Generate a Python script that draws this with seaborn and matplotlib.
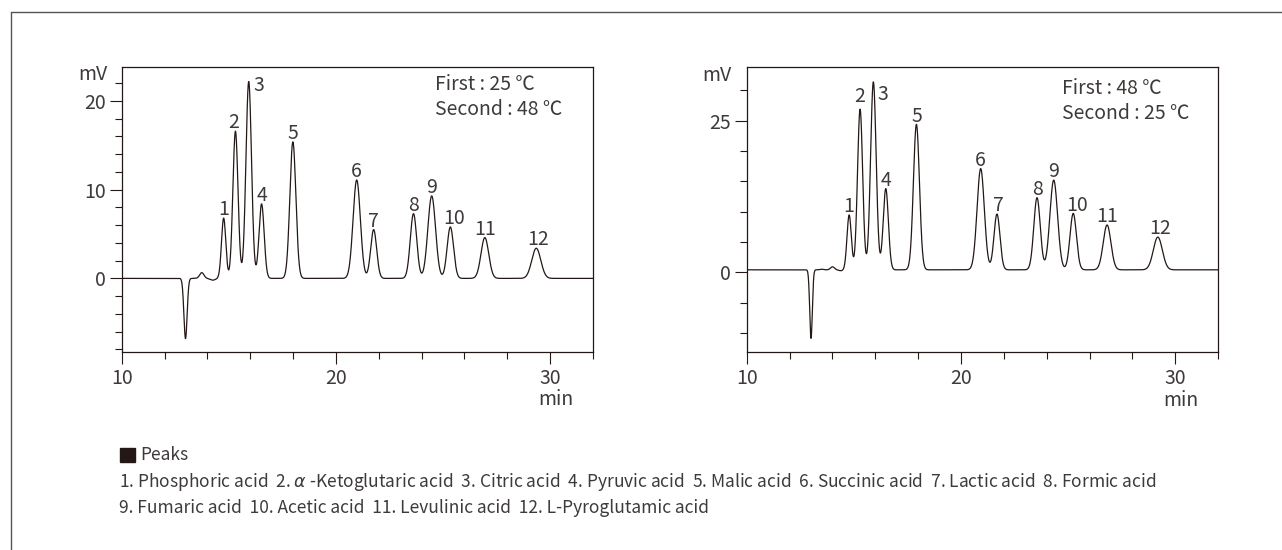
import numpy as np
import pandas as pd
import matplotlib
matplotlib.use('Agg')
import matplotlib.pyplot as plt
import seaborn as sns
from matplotlib.ticker import MultipleLocator
from matplotlib.lines import Line2D
from matplotlib.patches import Rectangle

# peak numbers and names
peak_ids = ['1', '2', '3', '4', '5', '6', '7', '8', '9', '10', '11', '12']
peak_names = ['Phosphoric acid', r'$\alpha$ -Ketoglutaric acid', 'Citric acid', 'Pyruvic acid',
              'Malic acid', 'Succinic acid', 'Lactic acid', 'Formic acid',
              'Fumaric acid', 'Acetic acid', 'Levulinic acid', 'L-Pyroglutamic acid']

# left chart (First 25 C / Second 48 C): retention time (min), height (mV)
rt_a = [14.76, 15.31, 15.93, 16.53, 17.99, 20.97, 21.76, 23.62, 24.47, 25.34, 26.95, 29.35]
h_a = [6.8, 16.6, 22.2, 8.4, 15.4, 11.1, 5.5, 7.3, 9.3, 5.8, 4.6, 3.4]
# system peaks (injection dip and small bumps)
sys_rt_a = [12.98, 13.74, 14.25]
sys_h_a = [-6.8, 0.65, -0.2]
sys_w_a = [0.075, 0.1, 0.12]
base_a = 0.0

# right chart (First 48 C / Second 25 C)
rt_b = [14.78, 15.29, 15.91, 16.49, 17.92, 20.92, 21.68, 23.55, 24.33, 25.24, 26.82, 29.19]
h_b = [9.05, 26.5, 31.0, 13.4, 24.0, 16.7, 9.2, 11.9, 14.8, 9.3, 7.4, 5.4]
sys_rt_b = [13.0, 13.5, 14.0, 14.4]
sys_h_b = [-11.3, 0.1, 0.5, -0.15]
sys_w_b = [0.06, 0.08, 0.09, 0.1]
base_b = 0.4

# peak widths (sigma, min), same column for both runs
w_pk = [0.10, 0.12, 0.13, 0.12, 0.14, 0.17, 0.14, 0.15, 0.18, 0.15, 0.18, 0.21]


def trace(rt, h, w, srt, sh, sw, base):
    t = np.linspace(10, 32, 3301)
    y = np.full_like(t, base)
    for c, a, s in zip(list(rt) + list(srt), list(h) + list(sh), list(w) + list(sw)):
        y += a * np.exp(-(t - c) ** 2 / (2 * s ** 2))
    return pd.DataFrame({'min': t, 'mV': y})


df_a = trace(rt_a, h_a, w_pk, sys_rt_a, sys_h_a, sys_w_a, base_a)
df_b = trace(rt_b, h_b, w_pk, sys_rt_b, sys_h_b, sys_w_b, base_b)

sns.set_style('white')
plt.rcParams['font.family'] = ['Noto Sans CJK JP', 'DejaVu Sans']
plt.rcParams['mathtext.fontset'] = 'dejavusans'

ink = '#231815'
txt = '#3e3a39'

fig = plt.figure(figsize=(12.82, 5.5), dpi=100)
ax1 = fig.add_axes([0.0949, 0.36, 0.3677, 0.5176])
ax2 = fig.add_axes([0.5825, 0.3595, 0.3676, 0.5192])

# label offsets in points (dx, dy)
offs_a = {'2': (-1, 2), '3': (7, -6.5), '10': (3, 2), '12': (1, 2)}
offs_b = {'2': (-0.5, 5), '3': (7, -13), '7': (1, 2), '10': (2.6, 2), '12': (1.5, 2)}

setup = [
    (ax1, df_a, rt_a, (-8.3, 23.8), 10, 2, offs_a, 'First : 25 ℃\nSecond : 48 ℃', (0.665, 0.975), (-0.031, 0.976)),
    (ax2, df_b, rt_b, (-13.2, 33.9), 25, 5, offs_b, 'First : 48 ℃\nSecond : 25 ℃', (0.668, 0.962), (-0.033, 0.969)),
]

for ax, df, rts, ylim, ymaj, ymin, offs, cond, cpos, mvpos in setup:
    sns.lineplot(data=df, x='min', y='mV', ax=ax, color=ink, linewidth=0.9)
    ax.set_xlim(10, 32)
    ax.set_ylim(*ylim)
    ax.set_xlabel('')
    ax.set_ylabel('')
    ax.xaxis.set_major_locator(MultipleLocator(10))
    ax.xaxis.set_minor_locator(MultipleLocator(2))
    ax.yaxis.set_major_locator(MultipleLocator(ymaj))
    ax.yaxis.set_minor_locator(MultipleLocator(ymin))
    ax.tick_params(which='major', direction='out', length=8.6, width=0.8, color=ink,
                   labelsize=14, labelcolor=txt, pad=3, left=True, bottom=True)
    ax.tick_params(which='minor', direction='out', length=5, width=0.8, color=ink,
                   left=True, bottom=True)
    for sp in ax.spines.values():
        sp.set_color(ink)
        sp.set_linewidth(0.9)
    for pid, r in zip(peak_ids, rts):
        yv = np.interp(r, df['min'], df['mV'])
        dx, dy = offs.get(pid, (0, 2))
        ax.annotate(pid, (r, yv), xytext=(dx, dy), textcoords='offset points',
                    ha='center', va='baseline', fontsize=14, color=txt)
    ax.text(cpos[0], cpos[1], cond, transform=ax.transAxes, ha='left', va='top',
            fontsize=14, color=txt, linespacing=1.25)
    ax.text(mvpos[0], mvpos[1], 'mV', transform=ax.transAxes, ha='right', va='center',
            fontsize=14, color=txt)
    ax.text(30.27, -0.168, 'min', transform=ax.get_xaxis_transform(), ha='center', va='center',
            fontsize=14, color=txt)

W, H = 1282, 550
# outer frame (top and left lines)
fig.add_artist(Line2D([10.5 / W, 1], [1 - 12 / H, 1 - 12 / H], color='#555555', lw=1))
fig.add_artist(Line2D([10.5 / W, 10.5 / W], [0, 1 - 12 / H], color='#555555', lw=1))

# peak list
fig.add_artist(Rectangle((120 / W, 1 - 462 / H), 15 / W, 14 / H, color=ink, transform=fig.transFigure))
fig.text(140 / W, 1 - 455 / H, 'Peaks', ha='left', va='center', fontsize=12.5, color=txt)
line1 = '  '.join(f'{i}. {n}' for i, n in zip(peak_ids[:8], peak_names[:8]))
line2 = '  '.join(f'{i}. {n}' for i, n in zip(peak_ids[8:], peak_names[8:]))
fig.text(119 / W, 1 - 482 / H, line1, ha='left', va='center', fontsize=12.5, color=txt)
fig.text(119 / W, 1 - 508 / H, line2, ha='left', va='center', fontsize=12.5, color=txt)

fig.savefig('out.png', dpi=100)
